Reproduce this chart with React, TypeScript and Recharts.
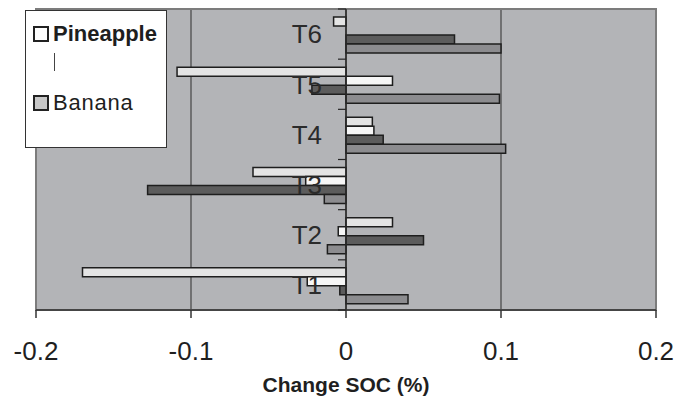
import {
  Bar,
  BarChart,
  CartesianGrid,
  ReferenceArea,
  ReferenceLine,
  XAxis,
  YAxis,
} from "recharts";

// treatments, listed top to bottom as drawn
const treatments = ["T6", "T5", "T4", "T3", "T2", "T1"];

// change in SOC (%), one value per treatment, same order as above
const pineappleA = [-0.008, -0.109, 0.017, -0.06, 0.03, -0.17];
const pineappleB = [0, 0.03, 0.018, -0.026, -0.005, -0.025];
const bananaA = [0.07, -0.022, 0.024, -0.128, 0.05, -0.004];
const bananaB = [0.1, 0.099, 0.103, -0.014, -0.012, 0.04];

const xTicks = [-0.2, -0.1, 0, 0.1, 0.2];

const data = treatments.map((t, i) => ({
  name: t,
  pineappleA: pineappleA[i],
  pineappleB: pineappleB[i],
  bananaA: bananaA[i],
  bananaB: bananaB[i],
}));

const W = 677;
const H = 400;
const Y_AXIS_W = 1;
const margin = { top: 9, right: 21, left: 35, bottom: 0 };
const X_AXIS_H = 90;
const plotLeft = margin.left + Y_AXIS_W;
const plotW = W - plotLeft - margin.right;
const plotH = H - margin.top - margin.bottom - X_AXIS_H;
const bandH = plotH / treatments.length;
const zeroX = plotLeft + (plotW * (0 - xTicks[0])) / (xTicks[xTicks.length - 1] - xTicks[0]);

const font = '"Liberation Sans", Arial, Helvetica, sans-serif';
const ink = "#262626";

function CategoryTick(props: any) {
  const { y, payload, index } = props;
  const top = y - bandH / 2;
  return (
    <g>
      <line x1={zeroX - 8} x2={zeroX} y1={top} y2={top} stroke={ink} strokeWidth={1.2} />
      {index === treatments.length - 1 && (
        <line x1={zeroX - 8} x2={zeroX} y1={top + bandH} y2={top + bandH} stroke={ink} strokeWidth={1.2} />
      )}
      <text
        x={zeroX - 24}
        y={y}
        dy="0.36em"
        textAnchor="end"
        fontSize={26}
        fontFamily={font}
        fill="#2b2b2b"
      >
        {payload.value}
      </text>
    </g>
  );
}

function Key() {
  const box = (fill: string) => ({
    display: "inline-block",
    width: 12,
    height: 12,
    border: "2px solid #222",
    background: fill,
    marginRight: 4,
    verticalAlign: "middle",
  });
  return (
    <div
      style={{
        position: "absolute",
        left: 25,
        top: 10,
        width: 140,
        height: 136,
        background: "#fff",
        border: "1px solid #333",
        fontFamily: font,
        color: "#1e1e1e",
      }}
    >
      <div style={{ position: "absolute", left: 7, top: 9, fontSize: 22, fontWeight: 700, whiteSpace: "nowrap" }}>
        <span style={box("#fff")} />
        <span style={{ verticalAlign: "middle" }}>Pineapple</span>
      </div>
      <div style={{ position: "absolute", left: 28, top: 42, width: 1, height: 18, background: "#444" }} />
      <div style={{ position: "absolute", left: 7, top: 78, fontSize: 22, whiteSpace: "nowrap", letterSpacing: 0.8 }}>
        <span style={box("#c8c8c8")} />
        <span style={{ verticalAlign: "middle" }}>Banana</span>
      </div>
    </div>
  );
}

export default function App() {
  return (
    <div style={{ position: "absolute", left: 0, top: 0, width: W, height: H, background: "#fff" }}>
      <BarChart
        width={W}
        height={H}
        layout="vertical"
        data={data}
        margin={margin}
        barGap={0}
        barCategoryGap="16%"
      >
        <CartesianGrid horizontal={false} stroke="#444" strokeWidth={1.2} fill="#b3b4b7" fillOpacity={1} />
        <ReferenceArea x1={-0.2} x2={0.2} fill="none" stroke="#7c7c7c" strokeWidth={2} />
        <XAxis
          type="number"
          domain={[-0.2, 0.2]}
          ticks={xTicks}
          height={X_AXIS_H}
          axisLine={{ stroke: "#333", strokeWidth: 1.5 }}
          tickLine={{ stroke: "#333", strokeWidth: 1.5 }}
          tickSize={8}
          tickMargin={24}
          tick={{ fontSize: 26, fontFamily: font, fill: "#1f1f1f" }}
          label={{
            value: "Change SOC (%)",
            position: "insideBottom",
            offset: 8,
            fontSize: 21,
            fontWeight: 700,
            fontFamily: font,
            fill: "#1f1f1f",
          }}
        />
        <YAxis
          type="category"
          dataKey="name"
          width={Y_AXIS_W}
          axisLine={false}
          tickLine={false}
          tick={(p: any) => <CategoryTick {...p} />}
          interval={0}
        />
        <ReferenceLine x={0} stroke="#2a2a2a" strokeWidth={1.5} />
        <Bar dataKey="pineappleA" name="Pineapple" fill="#e4e4e4" stroke="#1e1e1e" strokeWidth={1.5} isAnimationActive={false} />
        <Bar dataKey="pineappleB" name="Pineapple (2)" fill="#f6f6f6" stroke="#1e1e1e" strokeWidth={1.5} isAnimationActive={false} />
        <Bar dataKey="bananaA" name="Banana (2)" fill="#5c5c5c" stroke="#1e1e1e" strokeWidth={1.5} isAnimationActive={false} />
        <Bar dataKey="bananaB" name="Banana" fill="#8c8c8f" stroke="#1e1e1e" strokeWidth={1.5} isAnimationActive={false} />
      </BarChart>
      <Key />
    </div>
  );
}
